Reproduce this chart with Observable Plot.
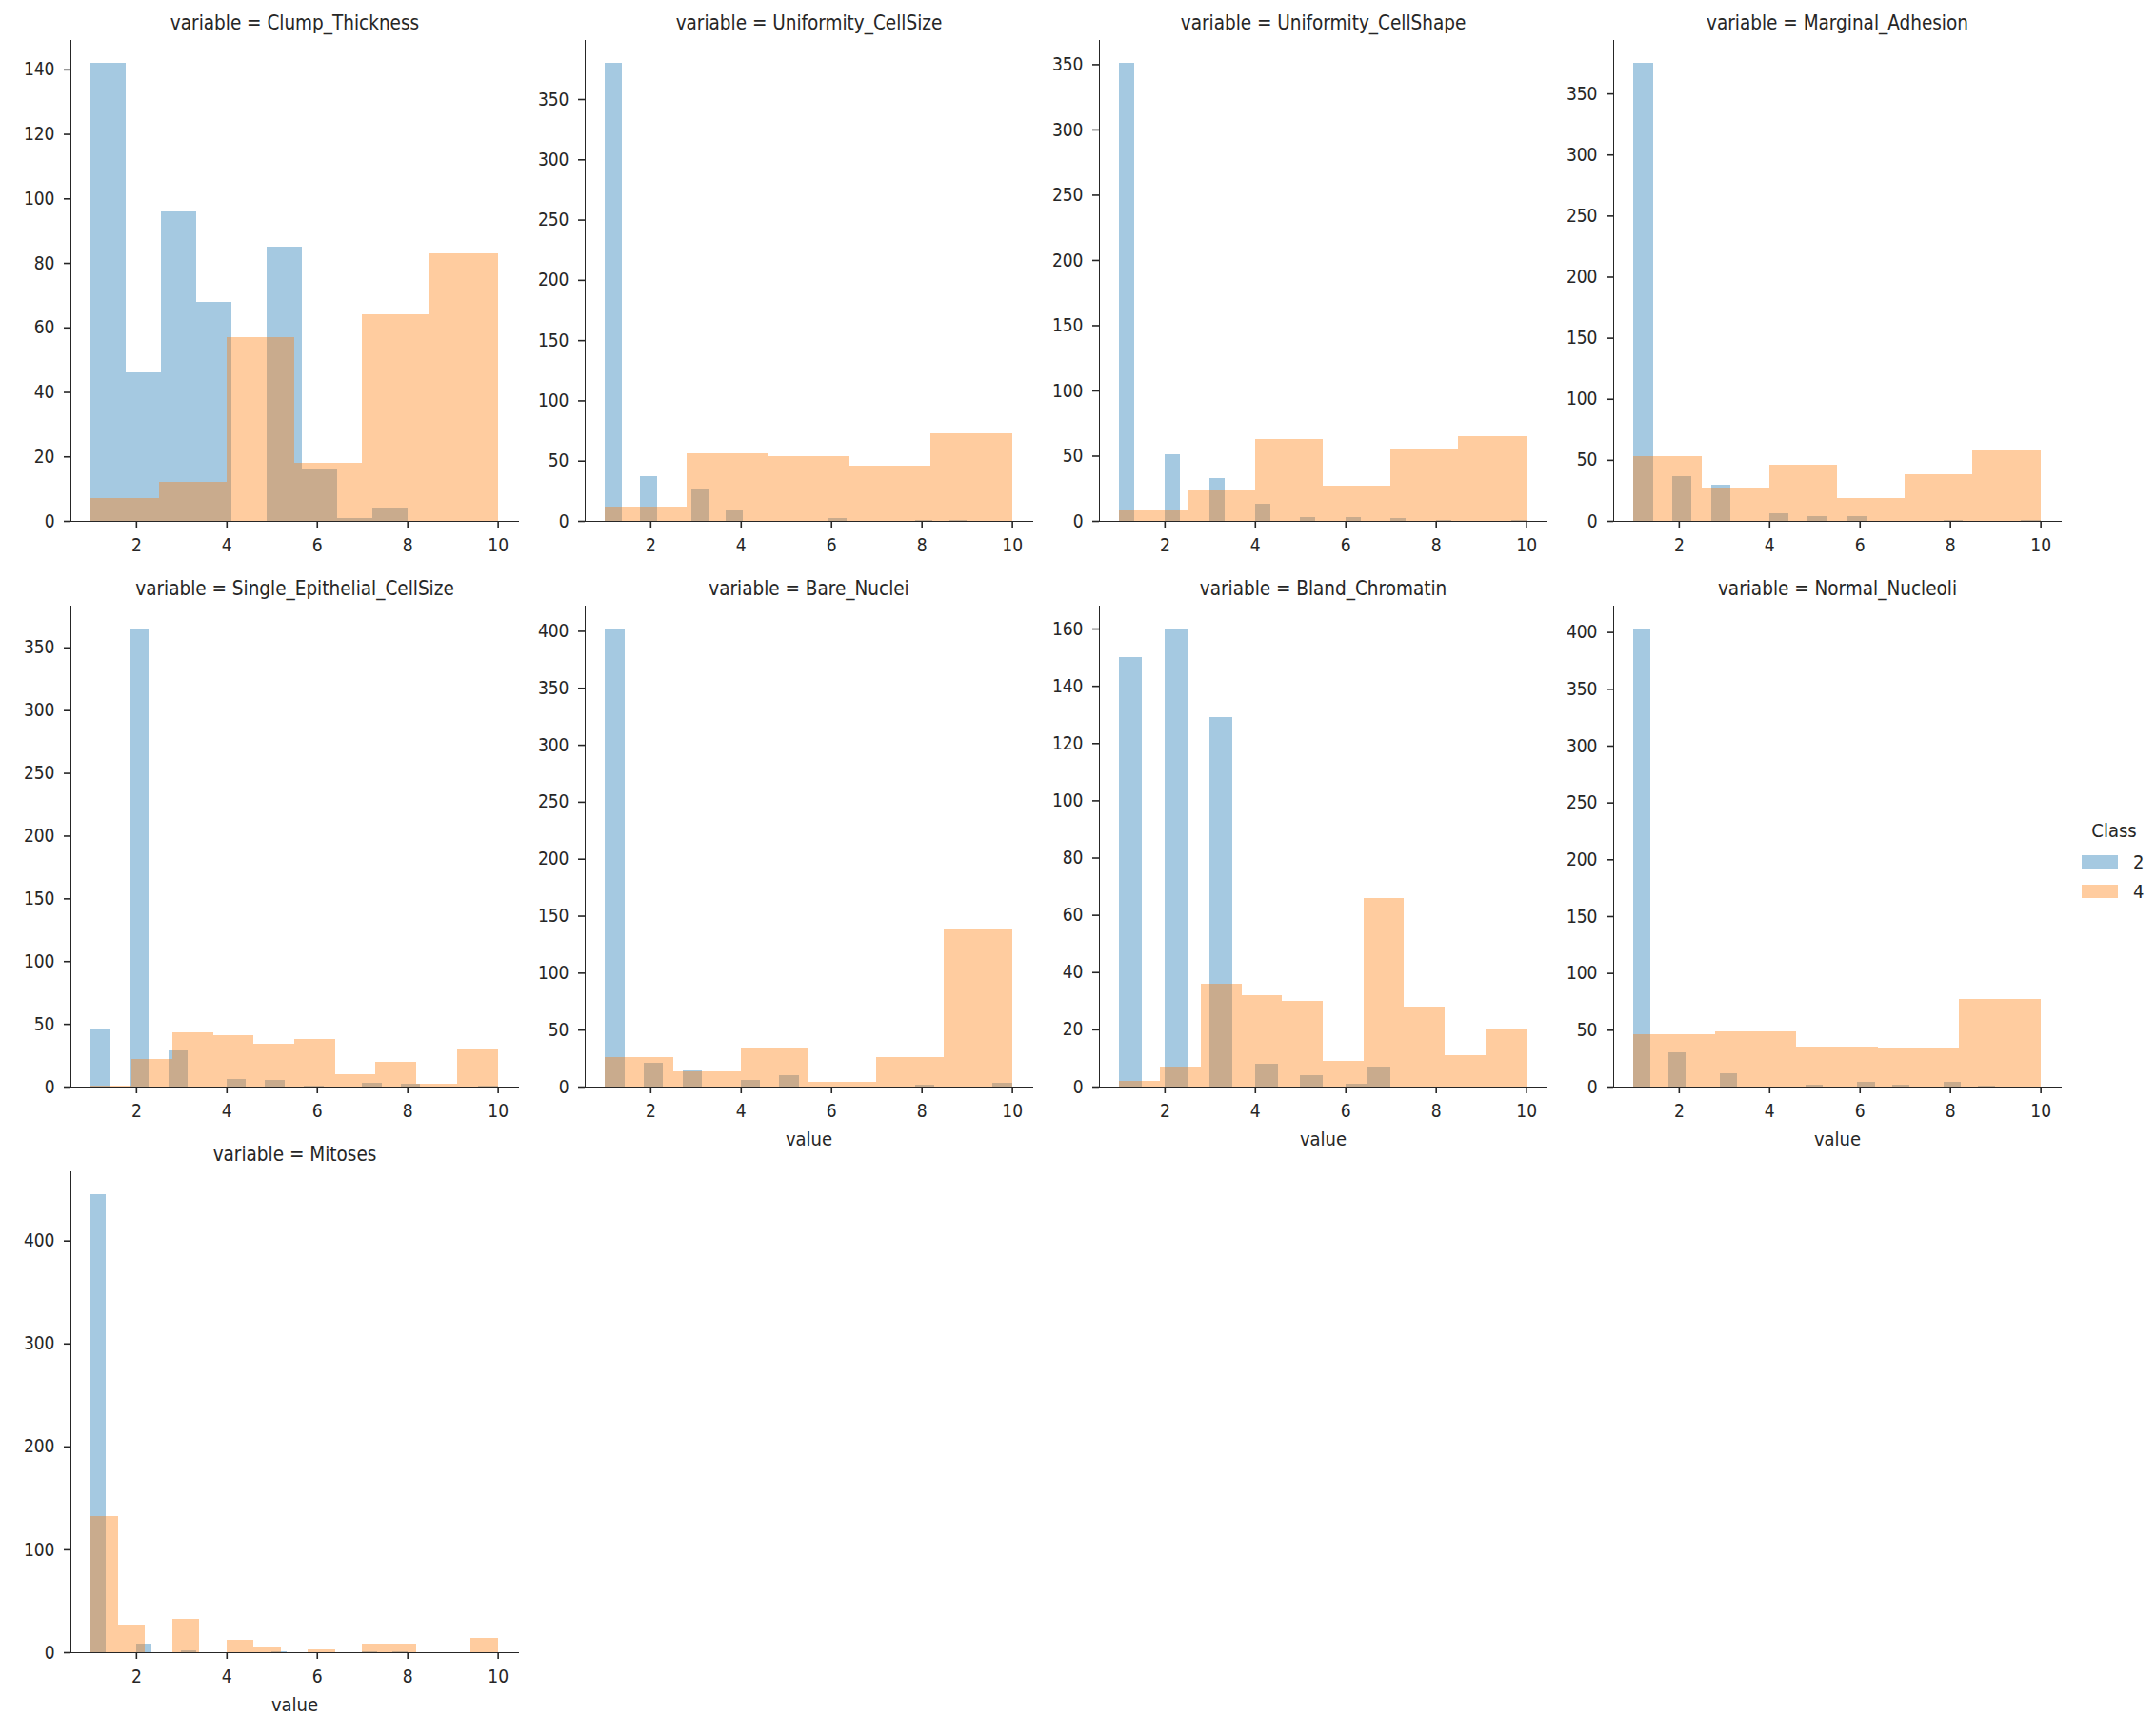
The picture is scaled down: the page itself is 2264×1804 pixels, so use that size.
<!DOCTYPE html>
<html>
<head>
<meta charset="utf-8">
<script src="https://cdn.jsdelivr.net/npm/d3@7"></script>
<script src="https://cdn.jsdelivr.net/npm/@observablehq/plot@0.6"></script>
<style>
  body { margin: 0; background: #ffffff; }
  #chart { position: relative; width: 2264px; height: 1804px; background: #ffffff;
    font-family: "DejaVu Sans Condensed", "DejaVu Sans", sans-serif; font-stretch: condensed; color: #262626; }
  #chart svg g[aria-label*="axis"] line, #chart svg g[aria-label*="axis"] path { stroke-width: 1.6px; }
  .leg { position: absolute; font-size: 20px; line-height: 1; }
</style>
</head>
<body>
<div id="chart"></div>
<script>
// ---- data ----
const variables = ["Clump_Thickness", "Uniformity_CellSize", "Uniformity_CellShape", "Marginal_Adhesion",
  "Single_Epithelial_CellSize", "Bare_Nuclei", "Bland_Chromatin", "Normal_Nucleoli", "Mitoses"];
const classes = ["2", "4"];
const classColors = ["#1f77b4", "#ff7f0e"];

// histogram bin range [first edge, last edge] for Class 2, per variable
const binRange2 = [[1, 8], [1, 9], [1, 10], [1, 10], [1, 10], [1, 10], [1, 7], [1, 9], [1, 8]];
// bar counts for Class 2 (one entry per bin)
const counts2 = [
  [142, 46, 96, 68, 0, 85, 16, 1, 4],
  [380, 0, 37, 0, 0, 27, 0, 9, 0, 0, 0, 0, 0, 2, 0, 0, 0, 0, 1, 0, 1],
  [351, 0, 0, 51, 0, 0, 33, 0, 0, 13, 0, 0, 3, 0, 0, 3, 0, 0, 2, 0, 0, 1, 0, 0, 0, 0, 1],
  [375, 0, 37, 0, 30, 0, 0, 6, 0, 4, 0, 4, 0, 0, 0, 0, 1, 0, 0, 0, 1],
  [46, 0, 365, 0, 29, 0, 0, 6, 0, 5, 0, 1, 0, 0, 3, 0, 2, 0, 0, 0, 1],
  [402, 0, 21, 0, 14, 0, 0, 6, 0, 10, 0, 0, 0, 0, 0, 0, 2, 0, 0, 0, 3],
  [150, 0, 160, 0, 129, 0, 8, 0, 4, 0, 1, 7],
  [403, 0, 30, 0, 0, 12, 0, 0, 0, 0, 2, 0, 0, 4, 0, 2, 0, 0, 4, 0, 1],
  [445, 0, 0, 8, 0, 0, 2, 0, 0, 0, 0, 0, 1, 0, 0, 0, 0, 0, 1, 0, 1]
];
// histogram bin range and counts for Class 4
const binRange4 = [[1, 10], [1, 10], [1, 10], [1, 10], [1, 10], [1, 10], [1, 10], [1, 10], [1, 10]];
const counts4 = [
  [7, 12, 57, 18, 64, 83],
  [12, 56, 54, 46, 73],
  [8, 23, 63, 27, 55, 65],
  [53, 27, 46, 19, 38, 58],
  [1, 22, 43, 41, 34, 38, 10, 20, 2, 30],
  [26, 13, 34, 4, 26, 138],
  [2, 7, 36, 32, 30, 9, 66, 28, 11, 20],
  [46, 49, 35, 34, 77],
  [132, 27, 0, 32, 0, 12, 6, 0, 3, 0, 8, 8, 0, 0, 14]
];
const yTickStep = [20, 50, 50, 50, 50, 50, 20, 50, 100];
const xTicks = [2, 4, 6, 8, 10];
const xDomain = [0.55, 10.45];
const xLabel = "value";
const legendTitle = "Class";

// ---- drawing ----
const chart = document.getElementById("chart");
function toBins(range, counts) {
  const [lo, hi] = range;
  const w = (hi - lo) / counts.length;
  return counts.map((c, k) => ({x1: lo + k * w, x2: lo + (k + 1) * w, base: 0, count: c}));
}

variables.forEach((v, i) => {
  const row = Math.floor(i / 4), col = i % 4;
  const b2 = toBins(binRange2[i], counts2[i]);
  const b4 = toBins(binRange4[i], counts4[i]);
  const yMax = d3.max([...counts2[i], ...counts4[i]]) * 1.05;
  const marks = [
    Plot.rect(b2, {x1: "x1", x2: "x2", y1: "base", y2: "count", fill: classColors[0], fillOpacity: 0.4, inset: 0, shapeRendering: "crispEdges"}),
    Plot.rect(b4, {x1: "x1", x2: "x2", y1: "base", y2: "count", fill: classColors[1], fillOpacity: 0.4, inset: 0, shapeRendering: "crispEdges"}),
    Plot.text([`variable = ${v}`], {frameAnchor: "top", dy: -18, fontSize: 20.5, lineAnchor: "middle", fill: "#262626"})
  ];
  if (i >= 5) marks.push(Plot.text([xLabel], {frameAnchor: "bottom", dy: 55, fontSize: 20, lineAnchor: "middle", fill: "#262626"}));
  const svg = Plot.plot({
    width: 560, height: 617,
    marginLeft: 74, marginRight: 16, marginTop: 42, marginBottom: 70,
    style: {background: "transparent", fontFamily: '"DejaVu Sans Condensed", "DejaVu Sans", sans-serif', fontStretch: "condensed", fontSize: "19px", color: "#262626", overflow: "visible"},
    x: {domain: xDomain, ticks: xTicks, tickSize: 7, tickPadding: 11, label: null, line: true},
    y: {domain: [0, yMax], ticks: d3.range(0, yMax, yTickStep[i]), tickSize: 7, tickPadding: 10, label: null, line: true},
    marks
  });
  svg.style.position = "absolute";
  svg.style.left = (col * 540) + "px";
  svg.style.top = (row * 594) + "px";
  chart.appendChild(svg);
});

// legend
const title = document.createElement("div");
title.className = "leg";
title.textContent = legendTitle;
Object.assign(title.style, {left: "2180px", width: "80px", textAlign: "center", top: "862px"});
chart.appendChild(title);
classes.forEach((c, k) => {
  const sw = document.createElement("div");
  Object.assign(sw.style, {position: "absolute", left: "2186px", top: (898 + k * 31) + "px", width: "38px", height: "14px",
    background: classColors[k], opacity: 0.4});
  chart.appendChild(sw);
  const lab = document.createElement("div");
  lab.className = "leg";
  lab.textContent = c;
  Object.assign(lab.style, {left: "2240px", top: (895 + k * 31) + "px"});
  chart.appendChild(lab);
});
</script>
</body>
</html>
